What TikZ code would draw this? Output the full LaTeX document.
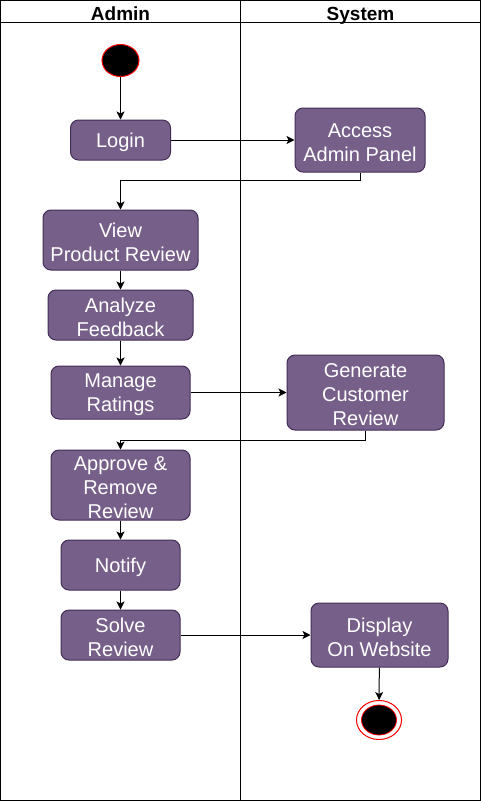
\documentclass[tikz,border=0pt]{standalone}
\usepackage{fontspec}
\setmainfont{Liberation Sans}
\usetikzlibrary{arrows.meta,shapes.geometric}
\definecolor{actfill}{HTML}{76608A}
\definecolor{actdraw}{HTML}{432D57}
\tikzset{
  acttext/.style={text=white, align=center, font=\fontsize{20}{24}\selectfont, inner sep=0pt, yshift=-2.5pt},
  act/.style={rectangle, rounded corners=8pt, draw=actdraw, line width=1pt, fill=actfill, inner sep=0pt,
    label={[acttext]center:{#1}}},
  flow/.style={-{Stealth[length=8pt,width=8pt,inset=2pt]}, line width=1pt},
  lane/.style={line width=1pt},
  head/.style={font=\fontsize{19}{22}\selectfont\bfseries, inner sep=0pt, anchor=base}
}
\begin{document}
\begin{tikzpicture}[x=1pt,y=-1pt]
\useasboundingbox (0,0) rectangle (481,801);
% swimlanes
\draw[lane] (0.5,0.5) rectangle (480.5,800.5);
\draw[lane] (0.5,22.5) -- (480.5,22.5);
\draw[lane] (240.5,0.5) -- (240.5,800.5);
\node[head] (hadmin) at (120.5,20) {Admin};
\node[head] (hsys) at (360.5,20) {System};
% start
\node[ellipse, draw=red, fill=black, line width=1pt, minimum width=37pt, minimum height=32pt, inner sep=0pt] (start) at (120.5,60.5) {};
% activities
\node[act={\vphantom{Ag}Login}, minimum width=100pt, minimum height=40pt] (login) at (120.5,140) {};
\node[act={Access\\Admin Panel}, minimum width=130pt, minimum height=64pt] (access) at (360,140) {};
\node[act={View\\Product Review}, minimum width=155pt, minimum height=60pt] (view) at (120.5,240) {};
\node[act={Analyze\\Feedback}, minimum width=145pt, minimum height=50pt] (analyze) at (120.5,315) {};
\node[act={Manage\\Ratings}, minimum width=139pt, minimum height=53pt] (manage) at (120.5,392.5) {};
\node[act={Generate\\Customer\\Review}, minimum width=157pt, minimum height=75pt] (generate) at (365.5,392.5) {};
\node[act={Approve \&\\Remove\\Review}, minimum width=139pt, minimum height=70pt] (approve) at (120.5,485) {};
\node[act={\vphantom{Ag}Notify}, minimum width=119pt, minimum height=50pt] (notify) at (120.5,565) {};
\node[act={Solve\\Review}, minimum width=119pt, minimum height=50pt] (solve) at (120.5,635) {};
\node[act={Display\\On Website}, minimum width=137pt, minimum height=64pt] (display) at (379.5,635) {};
% end
\node[ellipse, draw=red, fill=white, line width=1pt, minimum width=45pt, minimum height=39pt, inner sep=0pt] (end) at (379,720) {};
\node[ellipse, draw=red, fill=black, line width=0.8pt, minimum width=35pt, minimum height=30pt, inner sep=0pt] (endin) at (379,720) {};
% bends
\coordinate (b1) at (240,180.5);
\coordinate (b2) at (240,440.5);
% connectors
\draw[flow] (start) -- (login);
\draw[flow] (login) -- (access);
\draw[flow] (access.south) |- (b1) -| (view.north);
\draw[flow] (view) -- (analyze);
\draw[flow] (analyze) -- (manage);
\draw[flow] (manage) -- (generate);
\draw[flow] (generate.south) |- (b2) -| (approve.north);
\draw[flow] (approve) -- (notify);
\draw[flow] (notify) -- (solve);
\draw[flow] (solve) -- (display);
\draw[flow] (display) -- (end);
\end{tikzpicture}
\end{document}
